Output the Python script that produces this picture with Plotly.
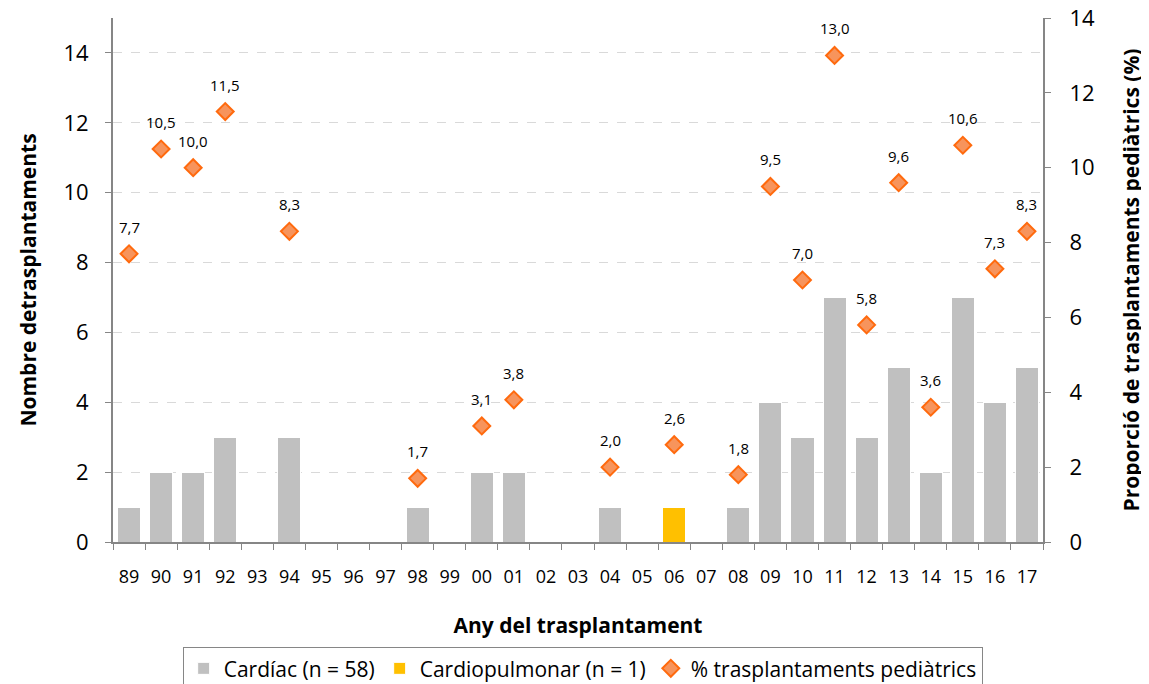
import plotly.graph_objects as go

years = ["89", "90", "91", "92", "93", "94", "95", "96", "97", "98",
         "99", "00", "01", "02", "03", "04", "05", "06", "07", "08",
         "09", "10", "11", "12", "13", "14", "15", "16", "17"]
cardiac = [1, 2, 2, 3, 0, 3, 0, 0, 0, 1,
           0, 2, 2, 0, 0, 1, 0, 0, 0, 1,
           4, 3, 7, 3, 5, 2, 7, 4, 5]
cardiopulmonar = [0, 0, 0, 0, 0, 0, 0, 0, 0, 0,
                  0, 0, 0, 0, 0, 0, 0, 1, 0, 0,
                  0, 0, 0, 0, 0, 0, 0, 0, 0]
pct_pediatric = [7.7, 10.5, 10.0, 11.5, None, 8.3, None, None, None, 1.7,
                 None, 3.1, 3.8, None, None, 2.0, None, 2.6, None, 1.8,
                 9.5, 7.0, 13.0, 5.8, 9.6, 3.6, 10.6, 7.3, 8.3]

FONT = "Open Sans"
AXIS_GREY = "#868686"

fig = go.Figure()

fig.add_bar(
    x=years, y=cardiac, name="Cardíac (n = 58)",
    marker=dict(color="#C0C0C0", line=dict(color="white", width=1)),
)
fig.add_bar(
    x=years, y=cardiopulmonar, name="Cardiopulmonar (n = 1)",
    marker=dict(color="#FFC000", line=dict(color="white", width=1)),
)
fig.add_scatter(
    x=years, y=pct_pediatric, name="% trasplantaments pediàtrics",
    mode="markers", yaxis="y2",
    marker=dict(symbol="diamond", size=13, color="#F7945C",
                line=dict(color="#FF6A0E", width=2)),
    cliponaxis=False,
)

# data labels above the diamonds (x given as category index)
for i, v in enumerate(pct_pediatric):
    if v is None:
        continue
    fig.add_annotation(
        x=i, y=v, xref="x", yref="y2",
        text=f"{v:.1f}".replace(".", ","),
        showarrow=False, yshift=27,
        font=dict(family=FONT, size=15, color="#000000"),
    )

# page body adds an 8px offset, margins compensate for it
fig.update_layout(
    width=1149, height=684,
    margin=dict(l=105, r=114, t=10, b=150),
    paper_bgcolor="white", plot_bgcolor="white",
    barmode="stack", bargap=0.28,
    font=dict(family=FONT, color="#000000"),
    showlegend=True,
    legend=dict(
        orientation="h", x=0.505, xanchor="center",
        yref="container", y=0.0655, yanchor="top",
        bordercolor=AXIS_GREY, borderwidth=1,
        font=dict(family=FONT, size=21),
        traceorder="normal", itemwidth=30,
    ),
    xaxis=dict(
        type="category", tickson="boundaries", range=[-0.5, 28.5],
        ticks="outside", ticklen=6, tickcolor=AXIS_GREY,
        showline=True, linecolor=AXIS_GREY, linewidth=2,
        tickfont=dict(size=18), automargin=False, ticklabelstandoff=17,
        title=dict(text="<b>Any del trasplantament</b>", font=dict(size=21), standoff=32),
    ),
    yaxis=dict(
        range=[0, 15], tickvals=[0, 2, 4, 6, 8, 10, 12, 14],
        ticks="outside", ticklen=6, tickcolor=AXIS_GREY,
        showline=True, linecolor=AXIS_GREY, linewidth=2,
        showgrid=True, gridcolor="#D9D9D9", griddash="dash", gridwidth=1,
        zeroline=False, automargin=False, ticklabelstandoff=12,
        tickfont=dict(size=22),
        title=dict(text="<b>Nombre detrasplantaments</b>", font=dict(size=21), standoff=21),
    ),
    yaxis2=dict(
        overlaying="y", side="right",
        range=[0, 14], tickvals=[0, 2, 4, 6, 8, 10, 12, 14],
        ticks="outside", ticklen=6, tickcolor=AXIS_GREY,
        showline=True, linecolor=AXIS_GREY, linewidth=2,
        showgrid=False, zeroline=False, automargin=False, ticklabelstandoff=14,
        ticklabeloverflow="allow",
        tickfont=dict(size=22),
        title=dict(text="<b>Proporció de trasplantaments pediàtrics (%)</b>", font=dict(size=21), standoff=30),
    ),
)

fig.write_html("out.html")
